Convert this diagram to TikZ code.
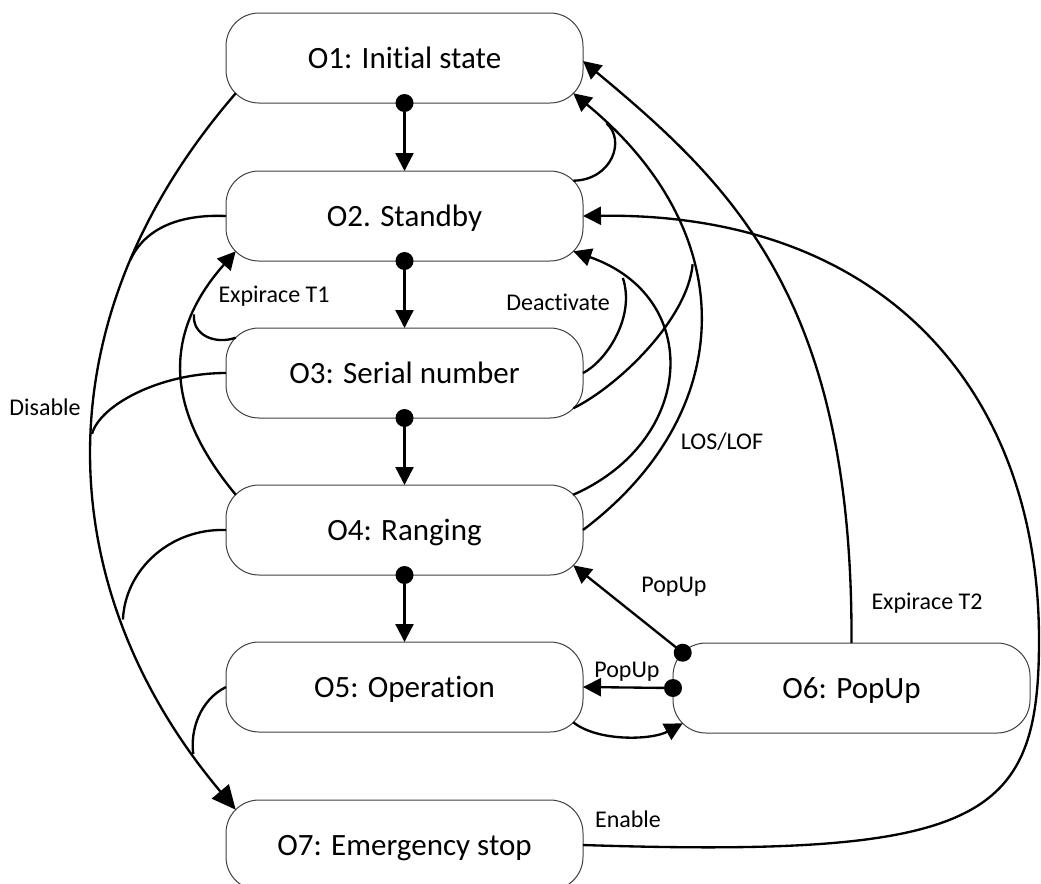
\documentclass[tikz,border=0pt]{standalone}
\usepackage{fontspec}
\setmainfont{Carlito}[Ligatures={NoCommon}]
\usetikzlibrary{arrows.meta,calc}
\begin{document}
\begin{tikzpicture}[x=0.75pt,y=-0.75pt,
  state/.style={draw=black!75, line width=0.75pt, rounded corners=24.75pt,
    minimum width=267.75pt, minimum height=67.5pt, inner sep=0pt, outer sep=0pt,
    fill=white, text height=15pt, text depth=0pt,
    font=\fontsize{23.25pt}{28pt}\selectfont},
  conn/.style={line width=1.75pt, draw=black},
  tip/.style={-{Triangle[length=13.5pt,width=13.5pt]}},
  bigtip/.style={-{Triangle[length=18pt,width=16.5pt]}},
  lbl/.style={font=\fontsize{18pt}{21pt}\selectfont, inner sep=0pt, text height=11.6pt, text depth=0pt}
]
\useasboundingbox (0,0) rectangle (1041,883);

% states
\node[state] (O1) at (404.5,58)  {O1: Initial state};
\node[state] (O2) at (404.5,216) {O2. Standby};
\node[state] (O3) at (404.5,373) {O3: Serial number};
\node[state] (O4) at (404.5,530) {O4: Ranging};
\node[state] (O5) at (404.5,687) {O5: Operation};
\node[state] (O6) at (851.5,688) {O6: PopUp};
\node[state] (O7) at (404.5,845) {O7: Emergency stop};

% corner attachment points
\coordinate (O1sw) at ($(O1.south west)+(9.7,-9.7)$);
\coordinate (O1se) at ($(O1.south east)+(-9.7,-9.7)$);
\coordinate (O1e)  at ($(O1.east)+(0,3)$);
\coordinate (O2sw) at ($(O2.south west)+(9.7,-9.7)$);
\coordinate (O2se) at ($(O2.south east)+(-9.7,-9.7)$);
\coordinate (O2ne) at ($(O2.north east)+(-9.7,9.7)$);
\coordinate (O3nw) at ($(O3.north west)+(9.7,9.7)$);
\coordinate (O3se) at ($(O3.south east)+(-9.7,-9.7)$);
\coordinate (O4nw) at ($(O4.north west)+(9.7,9.7)$);
\coordinate (O4ne) at ($(O4.north east)+(-9.7,9.7)$);
\coordinate (O4se) at ($(O4.south east)+(-9.7,-9.7)$);
\coordinate (O5se) at ($(O5.south east)+(-9.7,-9.7)$);
\coordinate (O6nw) at ($(O6.north west)+(9.7,9.7)$);
\coordinate (O6sw) at ($(O6.south west)+(9.7,-9.7)$);
\coordinate (O7nw) at ($(O7.north west)+(9.7,9.7)$);
\coordinate (eR) at (1039,640);

% vertical transitions
\draw[conn,tip] (O1.south) -- (O2.north);
\draw[conn,tip] (O2.south) -- (O3.north);
\draw[conn,tip] (O3.south) -- (O4.north);
\draw[conn,tip] (O4.south) -- (O5.north);

% Disable (left)
\draw[conn,bigtip] (O1sw) .. controls (32,329) and (56,596) .. (O7nw)
  coordinate[pos=0.23] (mD2) coordinate[pos=0.465] (mD3)
  coordinate[pos=0.72] (mD4) coordinate[pos=0.915] (mD5);
\draw[conn] (O2.west) .. controls (180,214) and (145,228) .. (mD2);
\draw[conn] (O3.west) .. controls (160,373) and (100,405) .. (mD3);
\draw[conn] (O4.west) .. controls (170,528) and (125,570) .. (mD4);
\draw[conn] (O5.west) .. controls (200,700) and (190,730) .. (mD5);

% Expirace T1 (left, to O2)
\draw[conn,tip] (O4nw) .. controls (168.4,413.5) and (159.3,337.6) .. (O2sw)
  coordinate[pos=0.75] (mE);
\draw[conn] (O3nw) .. controls (215,345) and (192,335) .. (mE);

% LOS/LOF to O1
\draw[conn,tip] (O4.east) .. controls (738.6,412.6) and (743,233) .. (O1se)
  coordinate[pos=0.62] (mB3) coordinate[pos=0.93] (mB2);
\draw[conn] (O3se) .. controls (620,385) and (688,318) .. (mB3);
\draw[conn] (O2ne) .. controls (612,180) and (626,140) .. (mB2);

% LOS/LOF and Deactivate to O2
\draw[conn,tip] (O4ne) .. controls (695.5,440.9) and (704.1,297.1) .. (O2se)
  coordinate[pos=0.85] (mC);
\draw[conn] (O3.east) .. controls (605,362) and (636,318) .. (mC);

% Expirace T2
\draw[conn,tip] (O6.north) .. controls (853,303) and (736,188) .. (O1e);

% Enable
\draw[conn,tip] (O7.east) .. controls (983,858) and (1039,820) .. (eR)
  .. controls (1039,390) and (883,212) .. (O2.east);

% PopUp transitions
\draw[conn,tip] (O6nw) -- (O4se);
\draw[conn,tip] (O6.west) -- (O5.east);
\draw[conn,tip] (O5se) .. controls (598,742) and (652,740) .. (O6sw);

% dots
\fill (O1.south) circle[radius=6.75pt];
\fill (O2.south) circle[radius=6.75pt];
\fill (O3.south) circle[radius=6.75pt];
\fill (O4.south) circle[radius=6.75pt];
\fill (O6nw) circle[radius=6.75pt];
\fill (O6.west) circle[radius=6.75pt];

% labels
\node[lbl] (lDis) at (45,408)    {Disable};
\node[lbl] (lT1)  at (274,295)   {Expirace T1};
\node[lbl] (lDe)  at (558,303)   {Deactivate};
\node[lbl] (lLos) at (722,442)   {LOS/LOF};
\node[lbl] (lPu1) at (674,585)   {PopUp};
\node[lbl] (lPu2) at (627,670)   {PopUp};
\node[lbl] (lT2)  at (927,602)   {Expirace T2};
\node[lbl] (lEn)  at (628,820)   {Enable};
\end{tikzpicture}
\end{document}
